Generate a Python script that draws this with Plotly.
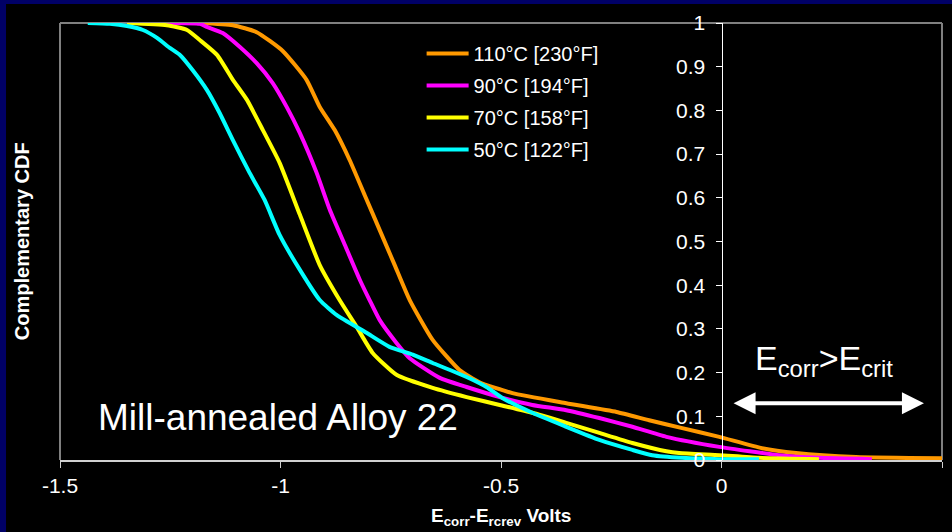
import plotly.graph_objects as go

# ---- data ----
series_names = ["110°C [230°F]", "90°C [194°F]", "70°C [158°F]", "50°C [122°F]"]
series_colors = ["#FF9900", "#FF00FF", "#FFFF00", "#00FFFF"]

x_110 = [-1.183, -1.108, -1.054, -0.995, -0.941, -0.911, -0.877, -0.843, -0.809, -0.775, -0.741,
         -0.707, -0.655, -0.594, -0.549, -0.474, -0.352, -0.238, -0.164, -0.089, -0.005, 0.092,
         0.169, 0.305, 0.500]
y_110 = [1.0, 0.995, 0.979, 0.936, 0.870, 0.808, 0.755, 0.686, 0.606, 0.526, 0.446,
         0.366, 0.275, 0.206, 0.178, 0.153, 0.130, 0.110, 0.091, 0.073, 0.053, 0.027,
         0.016, 0.007, 0.004]

x_90 = [-1.258, -1.183, -1.167, -1.131, -1.092, -1.054, -1.018, -0.986, -0.956, -0.918, -0.888,
        -0.854, -0.820, -0.798, -0.775, -0.737, -0.707, -0.639, -0.578, -0.503, -0.429, -0.352,
        -0.277, -0.202, -0.125, -0.005, 0.131, 0.221, 0.341]
y_90 = [1.0, 0.998, 0.991, 0.977, 0.945, 0.908, 0.863, 0.808, 0.748, 0.657, 0.572,
        0.492, 0.412, 0.366, 0.320, 0.268, 0.233, 0.188, 0.167, 0.144, 0.126, 0.114,
        0.096, 0.076, 0.053, 0.030, 0.011, 0.005, 0.002]

x_70 = [-1.348, -1.258, -1.212, -1.183, -1.144, -1.108, -1.076, -1.040, -1.002, -0.956, -0.911,
        -0.866, -0.827, -0.791, -0.737, -0.655, -0.578, -0.503, -0.429, -0.352, -0.277, -0.202,
        -0.125, -0.096, -0.005, 0.085, 0.221]
y_70 = [1.0, 0.995, 0.984, 0.961, 0.927, 0.870, 0.824, 0.755, 0.680, 0.561, 0.446,
        0.366, 0.304, 0.245, 0.195, 0.165, 0.144, 0.126, 0.108, 0.085, 0.062, 0.039,
        0.020, 0.016, 0.011, 0.005, 0.002]

x_50 = [-1.437, -1.387, -1.348, -1.312, -1.280, -1.251, -1.228, -1.199, -1.167, -1.138, -1.108,
        -1.070, -1.036, -1.002, -0.956, -0.911, -0.873, -0.805, -0.753, -0.700, -0.655, -0.578,
        -0.533, -0.497, -0.429, -0.352, -0.277, -0.202, -0.157, -0.089, -0.005, 0.085]
y_50 = [1.0, 0.998, 0.993, 0.984, 0.966, 0.943, 0.927, 0.892, 0.847, 0.794, 0.732,
        0.657, 0.595, 0.515, 0.435, 0.366, 0.332, 0.291, 0.259, 0.241, 0.222, 0.190,
        0.167, 0.142, 0.108, 0.076, 0.046, 0.023, 0.011, 0.005, 0.002, 0.002]

x_tick_vals = [-1.5, -1.0, -0.5, 0.0, 0.5]
x_tick_text = ["-1.5", "-1", "-0.5", "0", "0.5"]
y_tick_vals = [0, 0.1, 0.2, 0.3, 0.4, 0.5, 0.6, 0.7, 0.8, 0.9, 1.0]
y_tick_text = ["0", "0.1", "0.2", "0.3", "0.4", "0.5", "0.6", "0.7", "0.8", "0.9", "1"]

FONT = "Arial, Liberation Sans, sans-serif"

fig = go.Figure()
for name, color, xs, ys in zip(series_names, series_colors,
                               [x_110, x_90, x_70, x_50], [y_110, y_90, y_70, y_50]):
    fig.add_trace(go.Scatter(x=xs, y=ys, mode="lines", name=name, legendgroup=name,
                             line=dict(color=color, width=4, shape="spline", smoothing=0.5)))

fig.update_layout(
    width=952, height=532,
    margin=dict(l=60, r=10, t=23, b=72),
    paper_bgcolor="#000066",
    plot_bgcolor="#000000",
    font=dict(family=FONT, color="white", size=20),
    showlegend=True,
    legend=dict(x=0.41, y=0.975, xanchor="left", yanchor="top",
                bgcolor="rgba(0,0,0,0)", font=dict(size=20, color="white"),
                tracegroupgap=3, traceorder="grouped", itemwidth=42),
    xaxis=dict(range=[-1.5, 0.5], tickvals=x_tick_vals, ticktext=x_tick_text,
               showgrid=False, zeroline=False, showline=True, linecolor="#d0d0d0", linewidth=2,
               ticks="outside", ticklen=6, tickcolor="#d0d0d0", tickwidth=1,
               tickfont=dict(size=21, color="white")),
    yaxis=dict(range=[0, 1], tickvals=y_tick_vals, ticktext=y_tick_text,
               anchor="free", position=0.75, side="left",
               showgrid=False, zeroline=False, showline=True, linecolor="white", linewidth=1,
               ticks="outside", ticklen=6, tickcolor="white", tickwidth=1,
               ticklabelstandoff=6,
               tickfont=dict(size=21, color="white")),
)

# black slide area with navy frame at top/left
fig.add_shape(type="rect", xref="paper", yref="paper", x0=-0.0612, x1=1.03, y0=-0.2, y1=1.0435,
              fillcolor="#000000", line=dict(width=0), layer="below")
# plot area border (left, top, right)
for (x0, y0, x1, y1) in [(0, 0, 0, 1), (0, 1, 1, 1), (1, 0, 1, 1)]:
    fig.add_shape(type="line", xref="paper", yref="paper", x0=x0, y0=y0, x1=x1, y1=y1,
                  line=dict(color="#808080", width=2), layer="below")

# axis titles
fig.add_annotation(text="<b>E<sub>corr</sub>-E<sub>rcrev</sub> Volts</b>", xref="paper", yref="paper",
                   x=0.5, y=-0.13, xanchor="center", yanchor="middle", showarrow=False,
                   font=dict(size=19, color="white", family=FONT))
fig.add_annotation(text="<b>Complementary CDF</b>", xref="paper", yref="paper",
                   x=-0.0435, y=0.5, textangle=-90, xanchor="center", yanchor="middle",
                   showarrow=False, font=dict(size=20, color="white", family=FONT))

# text labels
fig.add_annotation(text="Mill-annealed Alloy 22", xref="x", yref="y", x=-1.006, y=0.098,
                   showarrow=False, xanchor="center", yanchor="middle",
                   font=dict(size=37, color="white", family=FONT))
fig.add_annotation(text="E<sub>corr</sub>>E<sub>crit</sub>", xref="x", yref="y", x=0.233, y=0.228,
                   showarrow=False, xanchor="center", yanchor="middle",
                   font=dict(size=34, color="white", family=FONT))
# double-headed arrow
fig.add_annotation(x=0.459, y=0.13, ax=0.024, ay=0.13, xref="x", yref="y", axref="x", ayref="y",
                   text="", showarrow=True, arrowhead=2, arrowside="end+start",
                   arrowsize=1.1, arrowwidth=4, arrowcolor="white", startarrowhead=2,
                   startarrowsize=1.1)

fig.write_html("out.html", config={"displayModeBar": False},
               post_script="document.body.style.margin='0';")
